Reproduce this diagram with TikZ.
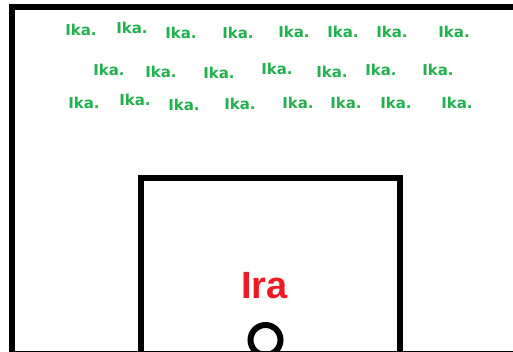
\documentclass[tikz,border=0pt]{standalone}
\usepackage{fontspec}
\newfontfamily\ikafont{DejaVu Sans}
\newfontfamily\irafont{Liberation Sans}
\definecolor{ikagreen}{HTML}{22B14C}
\definecolor{irared}{HTML}{ED1C24}
\tikzset{
  ika/.style={text=ikagreen, font=\ikafont\bfseries\fontsize{15}{15}\selectfont, inner sep=0pt, anchor=center},
  ira/.style={text=irared, font=\irafont\bfseries\fontsize{38}{38}\selectfont, inner sep=0pt, anchor=center},
  thickline/.style={draw=black, line width=6pt},
}
\begin{document}
\begin{tikzpicture}[x=1pt,y=-1pt]
\useasboundingbox (0,0) rectangle (513,352);
\clip (0,0) rectangle (513,352);
\fill[white] (0,0) rectangle (513,352);
% outer frame
\draw[thickline] (520,7.5) -- (12,7.5) -- (12,354) -- (520,354);
% inner box
\draw[thickline] (140.5,360) -- (140.5,178) -- (399.5,178) -- (399.5,360);
% circle
\node[draw=black, line width=6pt, circle, minimum size=30pt, inner sep=0pt] (hole) at (265.5,340) {};
% Ira
\node[ira] (ira) at (264.5,286) {Ira};
% row 1
\node[ika] (a1) at (81,30) {Ika.};
\node[ika] (a2) at (132,28) {Ika.};
\node[ika] (a3) at (181,33) {Ika.};
\node[ika] (a4) at (238,33) {Ika.};
\node[ika] (a5) at (294,32) {Ika.};
\node[ika] (a6) at (343,32) {Ika.};
\node[ika] (a7) at (392,32) {Ika.};
\node[ika] (a8) at (454,32) {Ika.};
% row 2
\node[ika] (b1) at (109,70) {Ika.};
\node[ika] (b2) at (161,72) {Ika.};
\node[ika] (b3) at (219,73) {Ika.};
\node[ika] (b4) at (277,69) {Ika.};
\node[ika] (b5) at (332,72) {Ika.};
\node[ika] (b6) at (381,70) {Ika.};
\node[ika] (b7) at (438,70) {Ika.};
% row 3
\node[ika] (c1) at (84,103) {Ika.};
\node[ika] (c2) at (135,100) {Ika.};
\node[ika] (c3) at (184,105) {Ika.};
\node[ika] (c4) at (240,104) {Ika.};
\node[ika] (c5) at (298,103) {Ika.};
\node[ika] (c6) at (346,103) {Ika.};
\node[ika] (c7) at (396,103) {Ika.};
\node[ika] (c8) at (457,103) {Ika.};
\end{tikzpicture}
\end{document}
